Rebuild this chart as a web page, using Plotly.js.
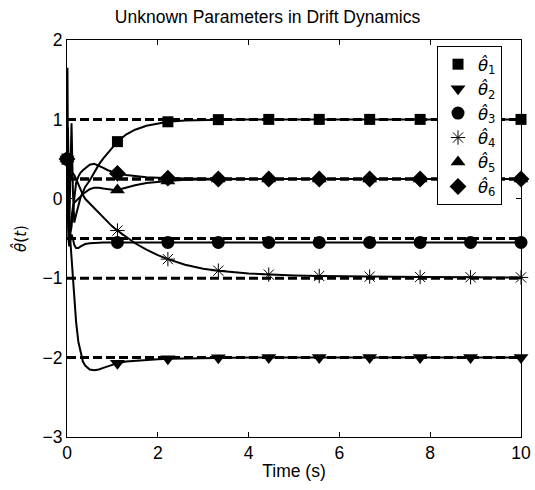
<!DOCTYPE html>
<html>
<head>
<meta charset="utf-8">
<script src="https://cdn.plot.ly/plotly-3.0.1.min.js"></script>
<style>html,body{margin:0;padding:0;background:#fff;}#chart{width:535px;height:490px;}</style>
</head>
<body>
<div id="chart"></div>
<script>
// Time samples (s)
var timeS = [0, 0.01, 0.02, 0.03, 0.05, 0.07, 0.1, 0.13, 0.16, 0.2, 0.25, 0.3, 0.35, 0.4, 0.5, 0.6, 0.7, 0.8, 0.9, 1.0, 1.111, 1.3, 1.5, 1.75, 2.0, 2.222, 2.6, 3.0, 3.333, 4.0, 4.444, 5.0, 5.556, 6.0, 6.667, 7.778, 8.889, 10];
// Times where markers are drawn
var markerTimes = [0, 1.111, 2.222, 3.333, 4.444, 5.556, 6.667, 7.778, 8.889, 10];

var theta1 = [0.5, 1.65, 0.6, -0.1, -0.4, 0.2, 0.95, 0.1, -0.3, -0.2, -0.1, 0.02, 0.08, 0.15, 0.23, 0.33, 0.43, 0.51, 0.58, 0.65, 0.72, 0.81, 0.87, 0.92, 0.95, 0.97, 0.985, 0.993, 0.997, 1.0, 1.0, 1.0, 1.0, 1.0, 1.0, 1.0, 1.0, 1.0];
var theta2 = [0.5, 0.3, 0.1, -0.1, -0.3, -0.5, -0.75, -1.0, -1.3, -1.55, -1.8, -1.95, -2.05, -2.1, -2.15, -2.16, -2.15, -2.13, -2.11, -2.09, -2.07, -2.05, -2.04, -2.03, -2.02, -2.015, -2.01, -2.005, -2.003, -2.0, -2.0, -2.0, -2.0, -2.0, -2.0, -2.0, -2.0, -2.0];
var theta3 = [0.5, 0.0, -0.3, -0.5, -0.6, -0.55, -0.45, -0.5, -0.58, -0.62, -0.62, -0.6, -0.58, -0.57, -0.56, -0.555, -0.552, -0.551, -0.55, -0.55, -0.55, -0.55, -0.55, -0.55, -0.55, -0.55, -0.55, -0.55, -0.55, -0.55, -0.55, -0.55, -0.55, -0.55, -0.55, -0.55, -0.55, -0.55];
var theta4 = [0.5, 0.7, 0.9, 0.6, 0.3, 0.25, 0.3, 0.32, 0.3, 0.25, 0.18, 0.1, 0.05, 0.0, -0.06, -0.12, -0.18, -0.24, -0.3, -0.35, -0.4, -0.48, -0.56, -0.64, -0.71, -0.76, -0.83, -0.88, -0.905, -0.94, -0.955, -0.965, -0.972, -0.976, -0.98, -0.985, -0.988, -0.99];
var theta5 = [0.5, 0.2, -0.1, -0.3, -0.5, -0.4, -0.2, -0.1, -0.05, -0.03, 0.0, 0.03, 0.06, 0.08, 0.12, 0.14, 0.14, 0.13, 0.12, 0.115, 0.11, 0.14, 0.17, 0.2, 0.215, 0.225, 0.24, 0.245, 0.25, 0.25, 0.25, 0.25, 0.25, 0.25, 0.25, 0.25, 0.25, 0.25];
var theta6 = [0.5, 0.8, 0.4, 0.0, -0.3, -0.45, -0.35, -0.15, 0.0, 0.2, 0.28, 0.33, 0.36, 0.38, 0.43, 0.44, 0.42, 0.39, 0.36, 0.34, 0.32, 0.3, 0.285, 0.27, 0.265, 0.26, 0.255, 0.252, 0.25, 0.25, 0.25, 0.25, 0.25, 0.25, 0.25, 0.25, 0.25, 0.25];

// Ideal (true) parameter values, dashed
var idealValues = [1, -2, -0.5, -1, 0.25, 0.25];
var idealRange = [0, 10];

var seriesNames = ['<i>\u03B8\u0302</i><sub>1</sub>', '<i>\u03B8\u0302</i><sub>2</sub>', '<i>\u03B8\u0302</i><sub>3</sub>', '<i>\u03B8\u0302</i><sub>4</sub>', '<i>\u03B8\u0302</i><sub>5</sub>', '<i>\u03B8\u0302</i><sub>6</sub>'];
var seriesSymbols = ['square', 'triangle-down', 'circle', 'asterisk-open', 'triangle-up', 'diamond'];
var seriesSizes = [11, 13, 13, 12, 13, 13];

var xTicks = [0, 2, 4, 6, 8, 10];
var yTicks = [-3, -2, -1, 0, 1, 2];

var allSeries = [theta1, theta2, theta3, theta4, theta5, theta6];
var traces = [];

idealValues.forEach(function (v) {
  traces.push({
    x: idealRange, y: [v, v], mode: 'lines', showlegend: false, hoverinfo: 'skip',
    line: {color: '#000', width: 3, dash: '9px,4px'}
  });
});

allSeries.forEach(function (s) {
  traces.push({
    x: timeS, y: s, mode: 'lines', showlegend: false,
    line: {color: '#000', width: 2}
  });
});

allSeries.forEach(function (s, i) {
  var mx = [], my = [];
  markerTimes.forEach(function (mt) {
    var idx = timeS.indexOf(mt);
    mx.push(mt); my.push(s[idx]);
  });
  var isStar = seriesSymbols[i] === 'asterisk-open';
  traces.push({
    x: mx, y: my, mode: 'markers', name: seriesNames[i], cliponaxis: false,
    marker: {
      symbol: seriesSymbols[i], size: seriesSizes[i], color: '#000',
      line: {color: '#000', width: isStar ? 1 : 0}
    }
  });
});

var axisFont = {family: 'Liberation Sans, Arial, sans-serif', size: 17.5, color: '#000'};

var layout = {
  width: 535, height: 490,
  margin: {l: 67, r: 14, t: 40, b: 53},
  paper_bgcolor: '#fff', plot_bgcolor: '#fff',
  title: {text: 'Unknown Parameters in Drift Dynamics', font: axisFont, x: 0.5, xanchor: 'center', y: 0.965, yanchor: 'middle'},
  showlegend: true,
  legend: {
    x: 0.815, y: 0.985, xanchor: 'left', yanchor: 'top',
    bgcolor: '#fff', bordercolor: '#000', borderwidth: 1,
    font: {family: 'DejaVu Sans, sans-serif', size: 16.5, color: '#000'},
    itemwidth: 30
  },
  xaxis: {
    range: [0, 10], tickvals: xTicks, ticktext: xTicks.map(String),
    ticks: 'inside', ticklen: 5, tickcolor: '#000', tickwidth: 1,
    showline: true, linecolor: '#000', linewidth: 1, mirror: 'ticks',
    showgrid: false, zeroline: false, tickfont: axisFont,
    title: {text: 'Time (s)', font: axisFont, standoff: 2},
    automargin: false
  },
  yaxis: {
    range: [-3, 2], tickvals: yTicks, ticktext: yTicks.map(function (v) { return v < 0 ? '\u2212' + Math.abs(v) : String(v); }),
    ticks: 'inside', ticklen: 5, tickcolor: '#000', tickwidth: 1,
    showline: true, linecolor: '#000', linewidth: 1, mirror: 'ticks',
    showgrid: false, zeroline: false, tickfont: axisFont,
    title: {text: '<i>\u03B8\u0302</i>(<i>t</i>)', font: {family: 'DejaVu Sans, sans-serif', size: 15, color: '#000'}, standoff: 12},
    automargin: false
  }
};

Plotly.newPlot('chart', traces, layout, {displayModeBar: false, staticPlot: true});
</script>
</body>
</html>
